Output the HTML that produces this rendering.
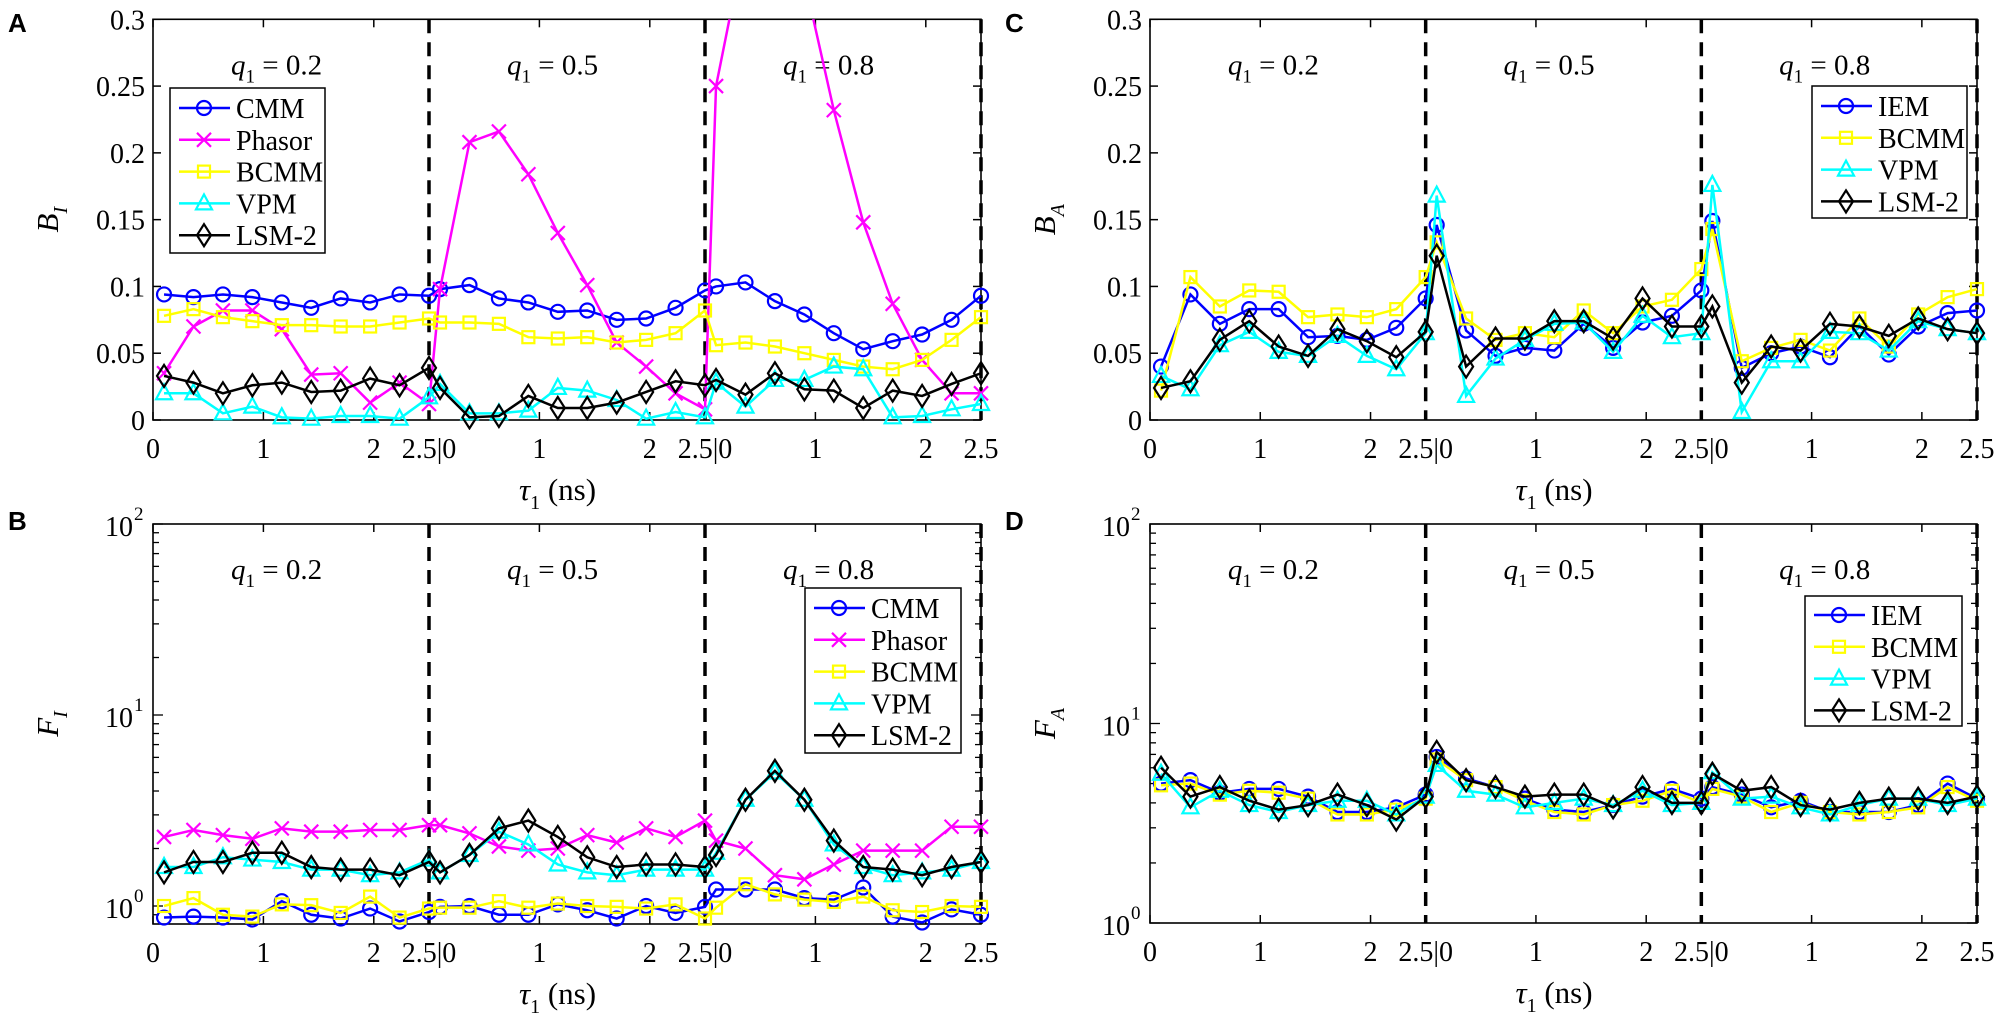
<!DOCTYPE html>
<html><head><meta charset="utf-8"><style>
html,body{margin:0;padding:0;background:#fff}
svg{display:block}
svg text{font-family:"Liberation Serif","Times New Roman",serif;fill:#000}
</style></head><body>
<svg id="s" width="2008" height="1020" xmlns="http://www.w3.org/2000/svg" font-family="Liberation Serif, serif"></svg>
<script>
const S=document.getElementById('s');
let h='';
const FF='font-family="Liberation Serif, serif"';
const P={
A:{x0:153,x1:981,t:19.3,b:420,lin:[0,0.3],lab:'B',sub:'I',yl:58},
B:{x0:153,x1:981,t:524,b:924,log:[-0.0942,2],lab:'F',sub:'I',yl:58},
C:{x0:1150,x1:1977,t:19.3,b:420,lin:[0,0.3],lab:'B',sub:'A',yl:1055},
D:{x0:1150,x1:1977,t:524,b:923,log:[0,2],lab:'F',sub:'A',yl:1055}};
function yp(p,v){if(p.lin)return p.b-(v-p.lin[0])/(p.lin[1]-p.lin[0])*(p.b-p.t);
 const l=Math.log10(v);return p.b-(l-p.log[0])/(p.log[1]-p.log[0])*(p.b-p.t);}
function xp(p,s,t){const w=(p.x1-p.x0)/3;return p.x0+s*w+t/2.5*w;}
function marker(m,x,y,c){
 const st=`fill="none" stroke="${c}" stroke-width="2.2"`;
 if(m=='o')return `<circle cx="${x}" cy="${y}" r="7" ${st}/>`;
 if(m=='s')return `<rect x="${x-6}" y="${y-6}" width="12" height="12" ${st}/>`;
 if(m=='t')return `<polygon points="${x},${y-9} ${x-8},${y+6} ${x+8},${y+6}" ${st}/>`;
 if(m=='d')return `<polygon points="${x},${y-11} ${x+7},${y} ${x},${y+11} ${x-7},${y}" ${st}/>`;
 if(m=='x')return `<path d="M${x-7} ${y-7}L${x+7} ${y+7}M${x-7} ${y+7}L${x+7} ${y-7}" ${st}/>`;
}
function series(pk,data,c,m){
 const p=P[pk];let pts=[];
 for(let s=0;s<3;s++)for(let i=0;i<10;i++){const v=data[s*10+i];pts.push([xp(p,s,0.1+i*0.26667),yp(p,v)]);}
 let o=`<g clip-path="url(#c${pk})"><polyline points="${pts.map(q=>q.join(',')).join(' ')}" fill="none" stroke="${c}" stroke-width="2.5"/>`;
 pts.forEach(q=>{o+=marker(m,q[0],q[1],c)});
 return o+'</g>';
}
function T(x,y,size,inner,extra){return `<text x="${x}" y="${y}" font-size="${size}" ${FF} ${extra||''}>${inner}</text>`;}
function axes(k){
 const p=P[k];let o=`<clipPath id="c${k}"><rect x="${p.x0-10}" y="${p.t}" width="${p.x1-p.x0+20}" height="${p.b-p.t+10}"/></clipPath>`;
 o+=`<rect x="${p.x0}" y="${p.t}" width="${p.x1-p.x0}" height="${p.b-p.t}" fill="none" stroke="#000" stroke-width="1.6"/>`;
 const xl=['0','1','2'];
 for(let s=0;s<3;s++){for(let t=0;t<3;t++){const x=xp(p,s,t);
   o+=`<line x1="${x}" y1="${p.b}" x2="${x}" y2="${p.b-8}" stroke="#000" stroke-width="1.5"/><line x1="${x}" y1="${p.t}" x2="${x}" y2="${p.t+8}" stroke="#000" stroke-width="1.5"/>`;
   if(!(s>0&&t==0))o+=T(x,p.b+38,28,xl[t],'text-anchor="middle"');}
  const xd=xp(p,s,2.5);
  o+=T(xd,p.b+38,28,s<2?'2.5|0':'2.5','text-anchor="middle"');
  o+=`<line x1="${xd}" y1="${p.t}" x2="${xd}" y2="${p.b}" stroke="#000" stroke-width="3.5" stroke-dasharray="14,9"/>`;
  const qv=['0.2','0.5','0.8'][s];const cx=xp(p,s,1.25);
  o+=T(cx-60,p.t+55,29,`<tspan font-style="italic">q</tspan><tspan font-size="19" dy="8">1</tspan><tspan dy="-8"> = ${qv}</tspan>`);
 }
 const mx=(p.x0+p.x1)/2;
 o+=T(mx-48,p.b+80,31,`<tspan font-style="italic">τ</tspan><tspan font-size="20" dy="9">1</tspan><tspan dy="-9"> (ns)</tspan>`);
 const yc=(p.t+p.b)/2;
 o+=`<text transform="translate(${p.yl},${yc}) rotate(-90)" font-size="31" ${FF} text-anchor="middle"><tspan font-style="italic">${p.lab}</tspan><tspan font-style="italic" font-size="20" dy="9">${p.sub}</tspan></text>`;
 if(p.lin){for(let i=0;i<=6;i++){const v=i*0.05,y=yp(p,v);const L=['0','0.05','0.1','0.15','0.2','0.25','0.3'][i];
   o+=`<line x1="${p.x0}" y1="${y}" x2="${p.x0+8}" y2="${y}" stroke="#000" stroke-width="1.5"/><line x1="${p.x1}" y1="${y}" x2="${p.x1-8}" y2="${y}" stroke="#000" stroke-width="1.5"/>`;
   o+=T(p.x0-8,y+10,28,L,'text-anchor="end"');}}
 else{for(let d=-1;d<2;d++)for(let m=1;m<10;m++){const v=m*Math.pow(10,d);const l=Math.log10(v);if(l<p.log[0]-1e-6||l>p.log[1])continue;const y=yp(p,v);const len=m==1?10:6;
   o+=`<line x1="${p.x0}" y1="${y}" x2="${p.x0+len}" y2="${y}" stroke="#000" stroke-width="1.3"/><line x1="${p.x1}" y1="${y}" x2="${p.x1-len}" y2="${y}" stroke="#000" stroke-width="1.3"/>`;}
  for(let e=0;e<=2;e++){const y=yp(p,Math.pow(10,e));o+=T(p.x0-20,y+12,28,'10','text-anchor="end"')+T(p.x0-19,y-4,19,String(e));}
  const y=yp(p,100);o+=`<line x1="${p.x0}" y1="${y}" x2="${p.x0+10}" y2="${y}" stroke="#000" stroke-width="1.3"/>`;}
 return o;
}
function legend(x,y,w,hh,items,r0){
 let o=`<rect x="${x}" y="${y}" width="${w}" height="${hh}" fill="#fff" stroke="#000" stroke-width="1.5"/>`;
 items.forEach((it,i)=>{const yy=r0+i*31.8;
  o+=`<line x1="${x+9}" y1="${yy}" x2="${x+60}" y2="${yy}" stroke="${it[1]}" stroke-width="2.5"/>`+marker(it[2],x+34,yy,it[1]);
  o+=T(x+66,yy+10,28,it[0]);});
 return o;
}
const BL='#0000ff',MG='#ff00ff',YL='#ffff00',CY='#00ffff',BK='#000';
for(const k of['A','B','C','D'])h+=axes(k);
h+=series('A',[.094,.092,.094,.092,.088,.084,.091,.088,.094,.093,.098,.101,.091,.088,.081,.082,.075,.076,.084,.097,.100,.103,.089,.079,.065,.053,.059,.064,.075,.093],BL,'o');
h+=series('A',[.035,.07,.082,.082,.068,.034,.035,.013,.028,.012,.098,.208,.216,.184,.14,.101,.058,.04,.02,.008,.25,.36,.40,.33,.232,.148,.087,.045,.02,.02],MG,'x');
h+=series('A',[.078,.083,.077,.074,.071,.071,.07,.07,.073,.076,.073,.073,.072,.062,.061,.062,.058,.06,.065,.082,.056,.058,.055,.05,.045,.04,.038,.045,.06,.077],YL,'s');
h+=series('A',[.02,.02,.005,.01,.002,.001,.003,.003,.001,.017,.027,.005,.005,.007,.024,.022,.015,.001,.006,.002,.028,.01,.03,.03,.04,.038,.002,.003,.008,.012],CY,'t');
h+=series('A',[.033,.028,.02,.026,.028,.021,.022,.031,.026,.039,.024,.002,.003,.018,.009,.009,.013,.021,.029,.026,.03,.019,.035,.023,.022,.009,.022,.018,.027,.035],BK,'d');
h+=series('B',[.87,.88,.87,.85,1.06,.9,.86,.97,.83,.93,.99,1.0,.9,.9,1.02,.95,.86,1.0,.92,.99,1.22,1.22,1.22,1.1,1.08,1.25,.88,.82,.96,.9],BL,'o');
h+=series('B',[2.3,2.5,2.35,2.25,2.55,2.45,2.45,2.5,2.5,2.65,2.65,2.4,2.05,1.95,2.0,2.35,2.15,2.55,2.3,2.8,2.2,2.0,1.45,1.38,1.65,1.95,1.95,1.95,2.6,2.6],MG,'x');
h+=series('B',[1.0,1.1,.9,.88,1.02,1.01,.92,1.12,.87,.97,.98,.98,1.06,.98,1.03,1.0,.99,.97,1.02,.86,.98,1.3,1.15,1.08,1.05,1.12,.95,.93,1.0,.99],YL,'s');
h+=series('B',[1.6,1.6,1.8,1.75,1.7,1.55,1.55,1.45,1.5,1.75,1.5,1.85,2.45,2.1,1.65,1.5,1.45,1.55,1.55,1.55,1.9,3.6,5.0,3.6,2.1,1.6,1.45,1.5,1.55,1.7],CY,'t');
h+=series('B',[1.5,1.7,1.7,1.9,1.9,1.6,1.55,1.55,1.45,1.7,1.5,1.85,2.55,2.8,2.3,1.8,1.6,1.65,1.65,1.6,1.85,3.6,5.1,3.6,2.2,1.6,1.55,1.45,1.6,1.7],BK,'d');
h+=series('C',[.04,.094,.072,.083,.083,.062,.063,.06,.069,.091,.146,.067,.048,.054,.052,.072,.054,.073,.078,.097,.149,.039,.05,.055,.047,.07,.049,.07,.08,.082],BL,'o');
h+=series('C',[.022,.107,.085,.097,.096,.077,.079,.077,.083,.107,.133,.076,.06,.065,.062,.082,.065,.085,.09,.113,.143,.044,.054,.06,.052,.076,.055,.079,.092,.098],YL,'s');
h+=series('C',[.033,.023,.056,.066,.051,.048,.063,.048,.038,.065,.168,.018,.046,.06,.072,.073,.051,.078,.062,.065,.176,.006,.044,.044,.066,.065,.052,.074,.068,.065],CY,'t');
h+=series('C',[.024,.029,.06,.074,.055,.048,.068,.059,.047,.066,.123,.04,.061,.061,.074,.074,.061,.091,.07,.07,.085,.028,.055,.052,.072,.07,.063,.076,.068,.065],BK,'d');
h+=series('D',[5.0,5.2,4.5,4.7,4.7,4.3,3.6,3.6,3.8,4.4,6.8,5.3,4.8,4.2,3.7,3.6,3.9,4.3,4.7,4.2,4.8,4.4,3.8,4.1,3.6,3.6,3.6,3.9,5.0,4.2],BL,'o');
h+=series('D',[4.9,5.0,4.4,4.6,4.5,4.2,3.5,3.5,3.7,4.2,6.6,5.2,4.8,4.1,3.6,3.5,3.9,4.1,4.6,4.0,4.7,4.3,3.6,4.0,3.6,3.5,3.6,3.8,4.8,4.1],YL,'s');
h+=series('D',[5.6,3.8,4.6,3.9,3.6,3.9,4.1,4.1,3.5,4.3,6.2,4.6,4.4,3.8,4.0,4.2,3.9,4.6,3.9,4.0,5.7,4.2,4.3,3.8,3.5,3.9,4.2,4.2,3.9,4.2],CY,'t');
h+=series('D',[6.0,4.3,4.8,4.1,3.7,3.9,4.4,3.9,3.3,4.3,7.2,5.2,4.8,4.3,4.4,4.4,3.8,4.8,4.0,4.0,5.6,4.6,4.8,3.9,3.7,4.0,4.2,4.2,4.0,4.3],BK,'d');
const L5=[['CMM',BL,'o'],['Phasor',MG,'x'],['BCMM',YL,'s'],['VPM',CY,'t'],['LSM-2',BK,'d']];
const L4=[['IEM',BL,'o'],['BCMM',YL,'s'],['VPM',CY,'t'],['LSM-2',BK,'d']];
h+=legend(170,88,155,165,L5,108);
h+=legend(805,588,156,165,L5,608);
h+=legend(1812,86,155,132,L4,106);
h+=legend(1805,596,157,130,L4,615);
const lab=[['A',8,32],['B',8,530],['C',1005,32],['D',1005,530]];
lab.forEach(a=>{h+=`<text x="${a[1]}" y="${a[2]}" font-size="26" font-weight="bold" font-family="Liberation Sans, sans-serif" style="font-family:'Liberation Sans',sans-serif">${a[0]}</text>`;});
S.innerHTML=h;
</script>
</body></html>
